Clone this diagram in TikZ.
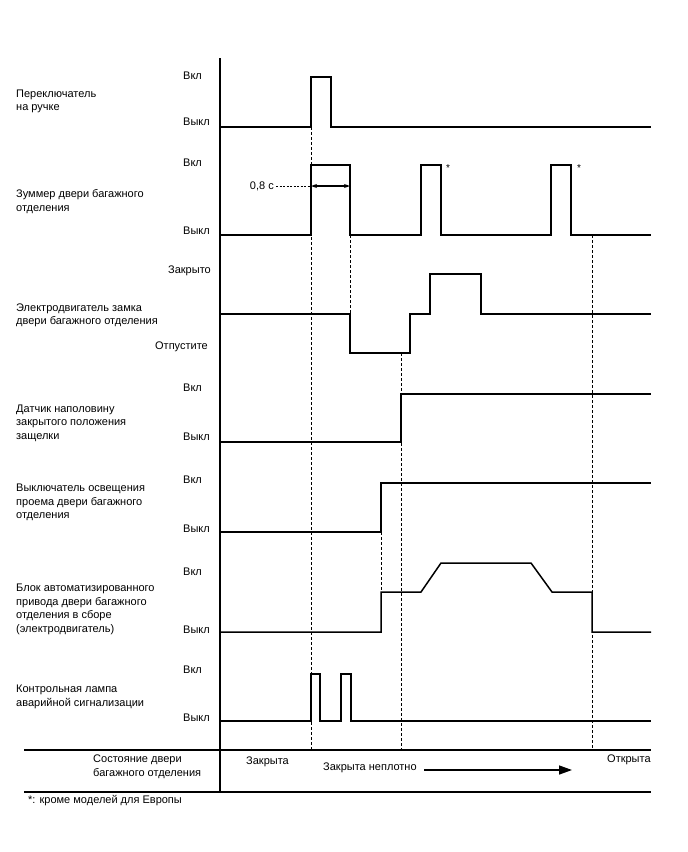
\documentclass[tikz,border=0pt]{standalone}
\usepackage{fontspec}
\setmainfont{Liberation Sans}
\usetikzlibrary{arrows.meta}
\begin{document}
\begin{tikzpicture}[x=1pt,y=-1pt,
  lbl/.style={inner sep=0pt,align=left,anchor=west,font=\fontsize{11}{13.5}\selectfont},
  lvl/.style={inner sep=0pt,anchor=west,font=\fontsize{11}{13.5}\selectfont},
  sig/.style={line width=1.5pt,line join=miter},
  guide/.style={line width=0.8pt,dash pattern=on 3pt off 2pt},
  frame/.style={line width=1.5pt}]
\useasboundingbox (0,0) rectangle (688,852);
% axis and frame lines
\coordinate (axT) at (220,58);
\coordinate (axB) at (220,792);
\draw[frame] (axT) -- (axB);
\coordinate (hl1) at (24,750); \coordinate (hr1) at (651,750);
\coordinate (hl2) at (24,792); \coordinate (hr2) at (651,792);
\draw[frame] (hl1) -- (hr1);
\draw[frame] (hl2) -- (hr2);
% left labels
\node[lbl] (n1) at (16,101.5) {Переключатель\\на ручке};
\node[lbl] (n2) at (16,201.5) {Зуммер двери багажного\\отделения};
\node[lbl] (n3) at (16,315.5) {Электродвигатель замка\\двери багажного отделения};
\node[lbl] (n4) at (16,423) {Датчик наполовину\\закрытого положения\\защелки};
\node[lbl] (n5) at (16,502.5) {Выключатель освещения\\проема двери багажного\\отделения};
\node[lbl] (n6) at (16,609.5) {Блок автоматизированного\\привода двери багажного\\отделения в сборе\\(электродвигатель)};
\node[lbl] (n7) at (16,697) {Контрольная лампа\\аварийной сигнализации};
\node[lbl] (n8) at (93,766.5) {Состояние двери\\багажного отделения};
% level labels
\node[lvl] (on1) at (183,76) {Вкл};
\node[lvl] (off1) at (183,122) {Выкл};
\node[lvl] (on2) at (183,163) {Вкл};
\node[lvl] (off2) at (183,231) {Выкл};
\node[lvl,anchor=east] (cl3) at (211,271) {Закрыто};
\node[lvl,anchor=east] (op3) at (208,347) {Отпустите};
\node[lvl] (on4) at (183,388) {Вкл};
\node[lvl] (off4) at (183,437) {Выкл};
\node[lvl] (on5) at (183,480) {Вкл};
\node[lvl] (off5) at (183,529) {Выкл};
\node[lvl] (on6) at (183,572) {Вкл};
\node[lvl] (off6) at (183,630) {Выкл};
\node[lvl] (on7) at (183,670) {Вкл};
\node[lvl] (off7) at (183,718) {Выкл};
% guide lines
\draw[guide] (311,127) -- (311,750);
\draw[guide] (350,235) -- (350,353);
\draw[guide] (401,353) -- (401,750);
\draw[guide] (381,532) -- (381,592);
\draw[guide] (592,235) -- (592,750);
% signals
\draw[sig] (220,127) -- (311,127) -- (311,77) -- (331,77) -- (331,127) -- (651,127);
\draw[sig] (220,235) -- (311,235) -- (311,165) -- (350,165) -- (350,235) -- (421,235) -- (421,165) -- (441,165) -- (441,235) -- (551,235) -- (551,165) -- (571,165) -- (571,235) -- (651,235);
\draw[sig] (220,314) -- (350,314) -- (350,353) -- (410,353) -- (410,314) -- (430,314) -- (430,274) -- (481,274) -- (481,314) -- (651,314);
\draw[sig] (220,442) -- (401,442) -- (401,394) -- (651,394);
\draw[sig] (220,532) -- (381,532) -- (381,483) -- (651,483);
\draw[sig] (220,632) -- (381,632) -- (381,592) -- (421,592) -- (441,563) -- (531,563) -- (552,592) -- (592,592) -- (592,632) -- (651,632);
\draw[sig] (220,721) -- (311,721) -- (311,674) -- (320,674) -- (320,721) -- (341,721) -- (341,674) -- (351,674) -- (351,721) -- (651,721);
% asterisks
\node[inner sep=0pt,font=\fontsize{10}{10}\selectfont] (ast1) at (448,168) {*};
\node[inner sep=0pt,font=\fontsize{10}{10}\selectfont] (ast2) at (579,168) {*};
% 0,8 s
\node[lvl,anchor=east] (t08) at (274,186) {0,8 с};
\coordinate (a1) at (311,186);
\coordinate (a2) at (350,186);
\draw[line width=0.7pt,dash pattern=on 2pt off 1.5pt] ([xshift=2pt]t08.east) -- (a1);
\draw[line width=1.1pt,{Stealth[length=6pt,width=4pt]}-{Stealth[length=6pt,width=4pt]}] (a1) -- (a2);
% bottom state row
\node[lvl] (s1) at (246,762) {Закрыта};
\node[lvl] (s2) at (323,768) {Закрыта неплотно};
\node[lvl] (s3) at (607,760) {Открыта};
\coordinate (arS) at (424,770);
\coordinate (arE) at (572,770);
\draw[line width=1.5pt,-{Triangle[length=13pt,width=9pt]}] (arS) -- (arE);
% footnote
\node[lvl] (fn) at (28,801) {*: кроме моделей для Европы};
\end{tikzpicture}
\end{document}
